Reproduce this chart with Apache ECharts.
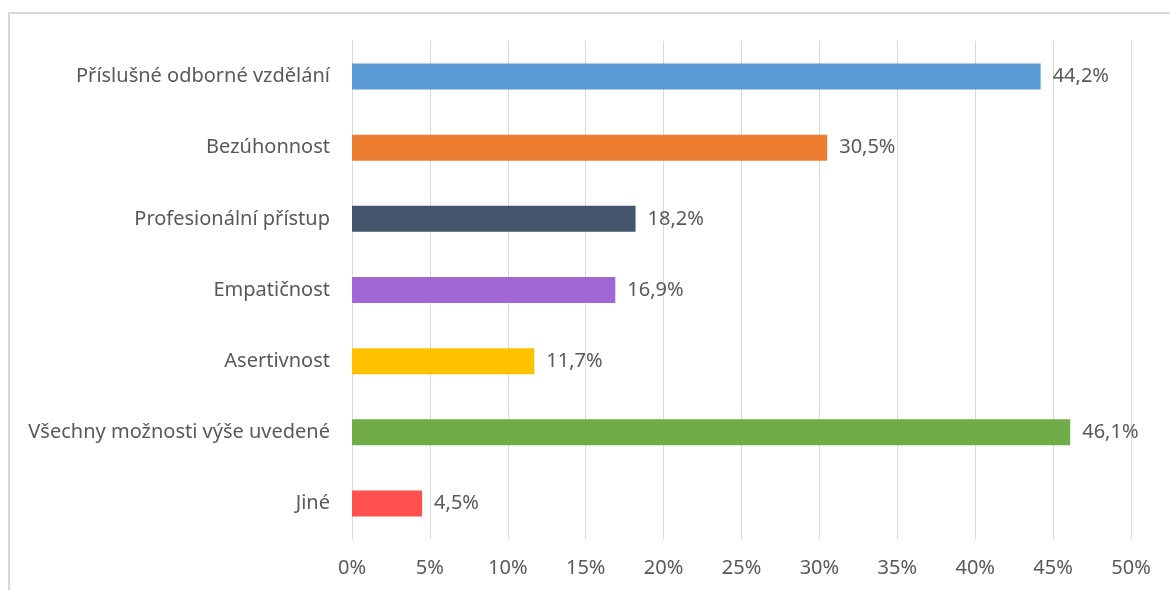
<!DOCTYPE html>
<html>
<head>
<meta charset="utf-8">
<script src="https://cdn.jsdelivr.net/npm/echarts@6/dist/echarts.min.js"></script>
<style>
  html, body { margin: 0; padding: 0; background: #fff; }
  #main { width: 1170px; height: 590px; }
</style>
</head>
<body>
<div id="main"></div>
<script>
const categories = [
  'Příslušné odborné vzdělání',
  'Bezúhonnost',
  'Profesionální přístup',
  'Empatičnost',
  'Asertivnost',
  'Všechny možnosti výše uvedené',
  'Jiné'
];
const values = [44.2, 30.5, 18.2, 16.9, 11.7, 46.1, 4.5];
const colors = ['#5B9BD5', '#ED7D31', '#44546A', '#A066D3', '#FFC000', '#70AD47', '#FF5050'];

const fontFamily = '"Noto Sans", "DejaVu Sans", sans-serif';
const chart = echarts.init(document.getElementById('main'));

chart.setOption({
  animation: false,
  backgroundColor: '#fff',
  graphic: [{
    type: 'rect',
    shape: { x: 9, y: 13, width: 1170, height: 600 },
    style: { fill: 'none', stroke: '#d9d9d9', lineWidth: 2 },
    silent: true
  }],
  grid: { left: 352, right: 39, top: 41, bottom: 51 },
  xAxis: {
    type: 'value',
    min: 0,
    max: 50,
    interval: 5,
    axisLine: { show: false },
    axisTick: { show: false },
    splitLine: { lineStyle: { color: '#d9d9d9', width: 1 } },
    axisLabel: {
      formatter: '{value}%',
      color: '#595959',
      fontSize: 20,
      fontFamily: fontFamily,
      margin: 19
    }
  },
  yAxis: {
    type: 'category',
    inverse: true,
    data: categories,
    axisLine: { show: true, lineStyle: { color: '#d9d9d9', width: 1 } },
    axisTick: { show: false },
    axisLabel: {
      color: '#595959',
      fontSize: 20,
      fontFamily: fontFamily,
      margin: 22
    }
  },
  series: [{
    type: 'bar',
    barWidth: 26,
    data: values.map((v, i) => ({ value: v, itemStyle: { color: colors[i] } })),
    label: {
      show: true,
      position: 'right',
      distance: 12,
      color: '#595959',
      fontSize: 20,
      fontFamily: fontFamily,
      formatter: p => p.value.toFixed(1).replace('.', ',') + '%'
    }
  }]
});
</script>
</body>
</html>
